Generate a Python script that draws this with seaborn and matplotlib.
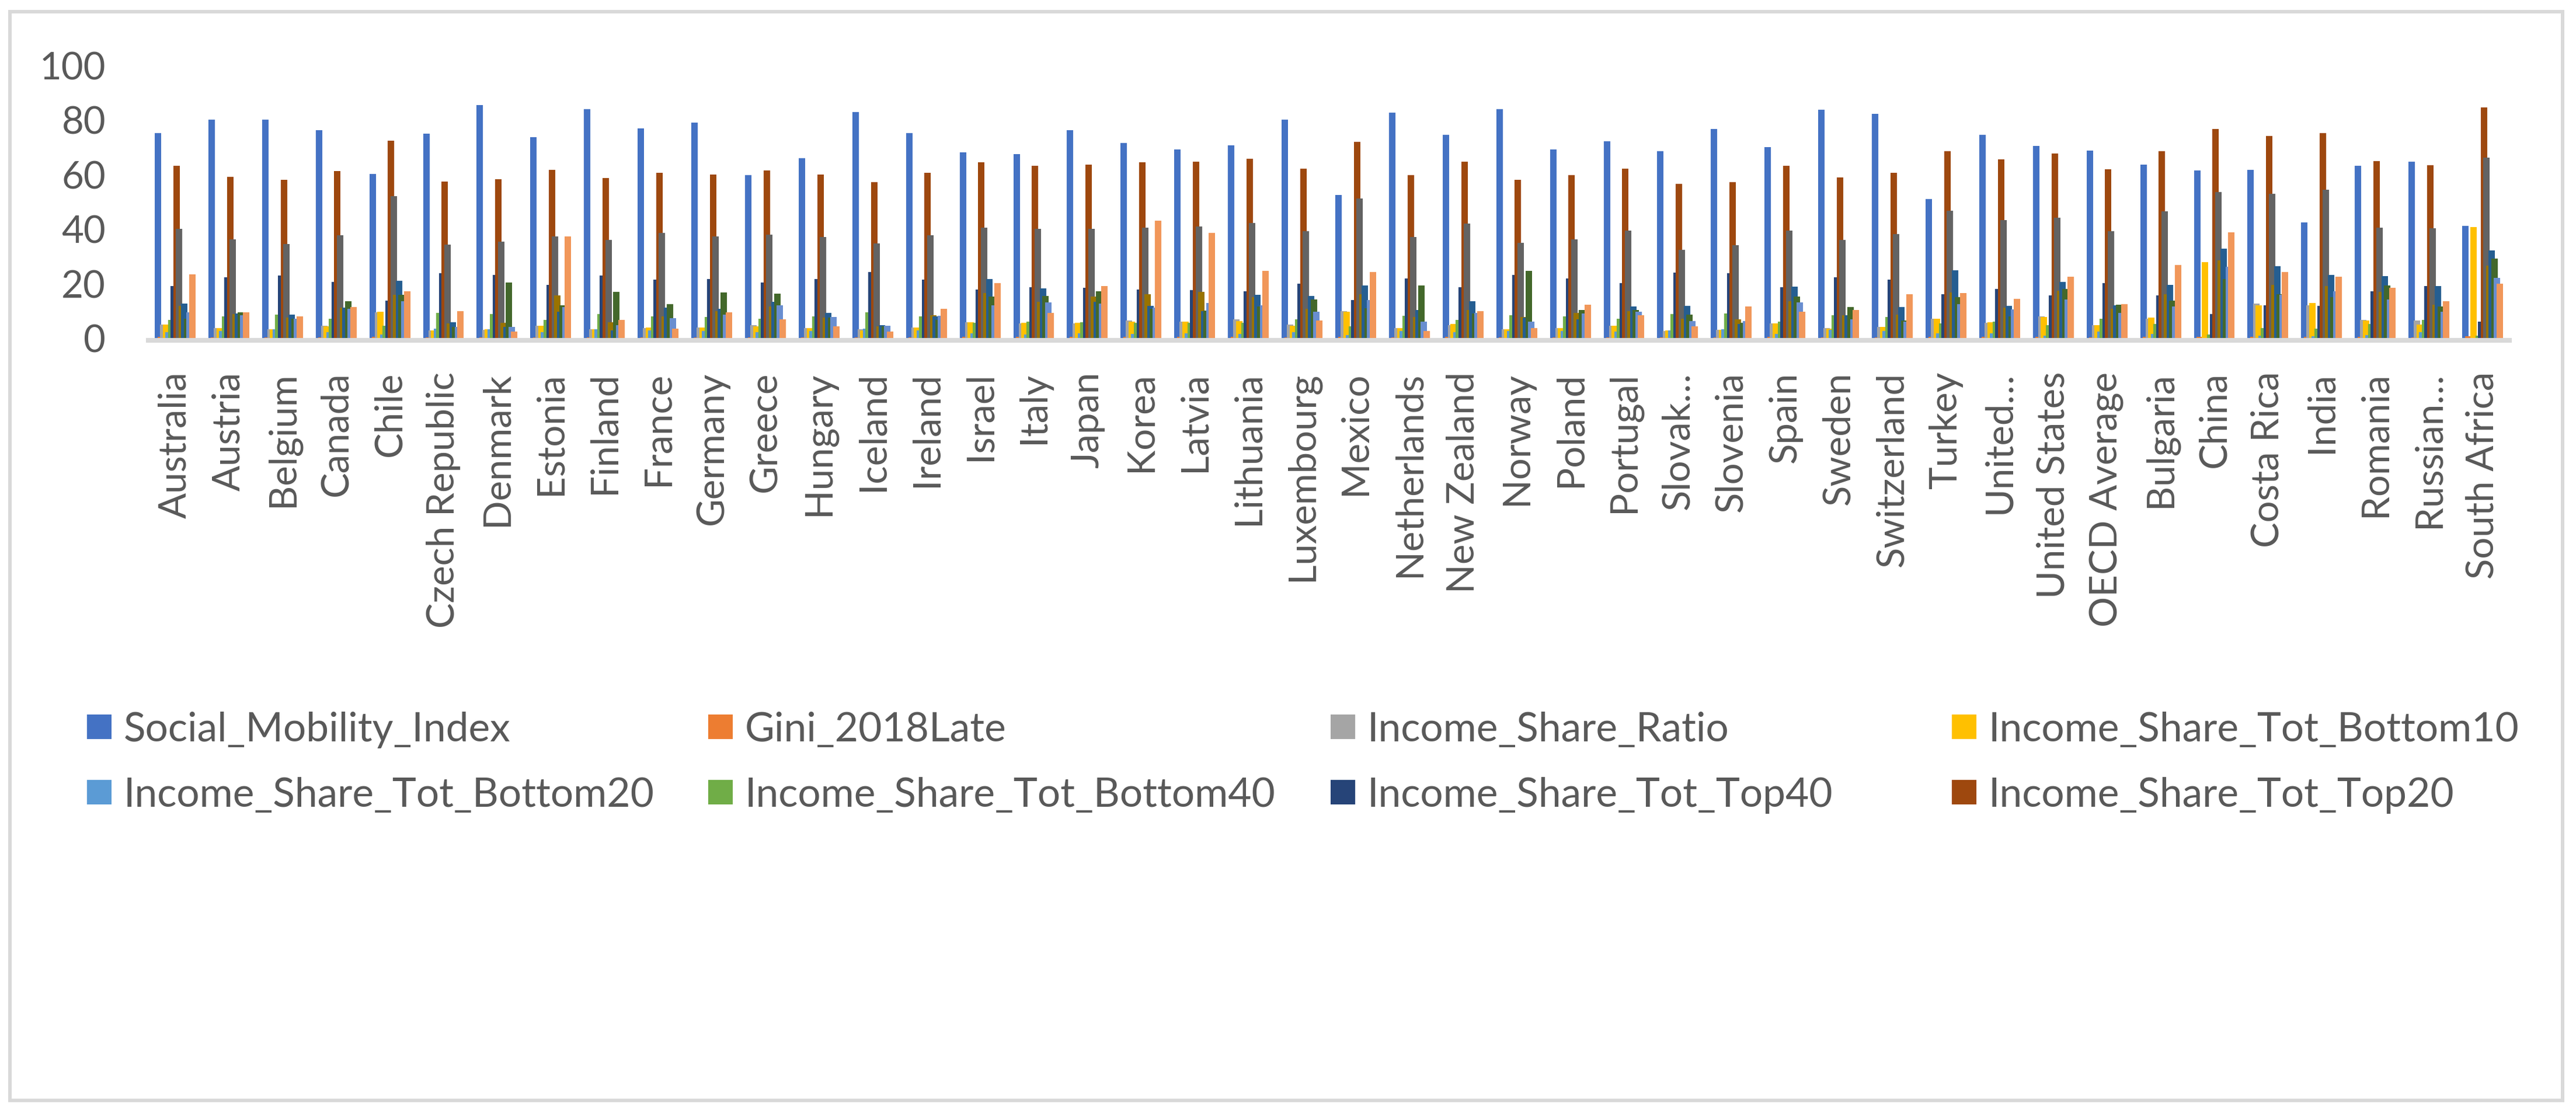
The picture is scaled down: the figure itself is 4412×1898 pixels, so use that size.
import pandas as pd
import matplotlib.pyplot as plt
import seaborn as sns
from matplotlib.patches import Patch, Rectangle

# Data
countries = ["Australia", "Austria", "Belgium", "Canada", "Chile", "Czech Republic", "Denmark",
             "Estonia", "Finland", "France", "Germany", "Greece", "Hungary", "Iceland", "Ireland",
             "Israel", "Italy", "Japan", "Korea", "Latvia", "Lithuania", "Luxembourg", "Mexico",
             "Netherlands", "New Zealand", "Norway", "Poland", "Portugal", "Slovak…", "Slovenia",
             "Spain", "Sweden", "Switzerland", "Turkey", "United…", "United States", "OECD Average",
             "Bulgaria", "China", "Costa Rica", "India", "Romania", "Russian…", "South Africa"]

social_mobility = [75.0, 80.1, 80.1, 76.1, 60.2, 74.8, 85.3, 73.5, 83.8, 76.7, 78.9, 59.6, 65.8, 82.7, 75.0,
                   68.1, 67.3, 76.1, 71.4, 69.0, 70.5, 79.9, 52.5, 82.5, 74.4, 83.8, 69.0, 72.0, 68.4, 76.5,
                   69.9, 83.6, 82.1, 51.0, 74.4, 70.3, 68.6, 63.6, 61.3, 61.5, 42.4, 63.0, 64.7, 41.1]
gini = [0.33, 0.28, 0.26, 0.30, 0.46, 0.25, 0.26, 0.31, 0.27, 0.30, 0.29, 0.31, 0.29, 0.25, 0.29,
        0.35, 0.33, 0.33, 0.35, 0.35, 0.37, 0.32, 0.42, 0.29, 0.35, 0.26, 0.28, 0.32, 0.24, 0.24,
        0.33, 0.28, 0.30, 0.40, 0.37, 0.39, 0.32, 0.40, 0.47, 0.48, 0.50, 0.35, 0.32, 0.62]
share_ratio = [4.9, 3.6, 3.2, 4.5, 9.4, 2.8, 3.0, 4.5, 3.2, 3.6, 3.9, 4.7, 3.6, 3.2, 3.9,
               5.8, 5.4, 5.4, 6.4, 6.0, 6.9, 4.9, 9.9, 3.6, 4.7, 3.2, 3.6, 4.5, 2.6, 3.0,
               5.4, 3.6, 4.1, 7.1, 5.6, 7.9, 4.7, 7.1, 0.0, 12.6, 12.0, 6.6, 6.4, 0.0]
bottom10 = [4.9, 3.6, 3.2, 4.3, 9.6, 2.8, 3.2, 4.5, 3.2, 3.9, 3.9, 4.3, 3.6, 2.8, 3.9,
            5.8, 5.6, 5.6, 6.0, 6.0, 6.2, 4.5, 9.6, 3.6, 5.1, 3.2, 3.6, 4.5, 2.8, 3.0,
            5.4, 3.4, 4.1, 7.1, 5.8, 7.7, 4.7, 7.5, 27.9, 12.0, 12.9, 6.4, 4.9, 40.7]
bottom20 = [2.1, 2.6, 3.2, 2.1, 1.3, 3.4, 3.2, 2.1, 3.2, 2.8, 2.6, 2.1, 2.6, 3.4, 2.8,
            1.7, 1.3, 1.7, 1.5, 1.7, 1.5, 2.1, 1.1, 2.6, 2.1, 2.6, 2.6, 2.4, 2.8, 3.2,
            1.5, 3.0, 2.6, 1.7, 1.7, 0.9, 2.4, 1.5, 0.0, 0.9, 0.6, 1.1, 2.1, 0.0]
bottom40 = [6.6, 7.9, 8.6, 7.1, 4.5, 9.2, 8.8, 6.6, 8.8, 7.9, 7.7, 7.1, 7.9, 9.4, 7.9,
            5.6, 6.0, 5.8, 5.6, 5.6, 5.6, 6.9, 4.3, 8.1, 6.6, 8.4, 7.9, 7.1, 8.8, 9.0,
            6.0, 8.4, 7.7, 5.4, 6.0, 4.7, 7.1, 5.1, 1.3, 3.6, 3.4, 5.1, 6.6, 0.9]
top40 = [19.1, 22.3, 22.9, 20.6, 13.7, 23.8, 23.1, 19.5, 22.9, 21.4, 21.6, 20.4, 21.6, 24.2, 21.4,
         17.8, 18.6, 18.4, 17.8, 17.6, 17.1, 19.9, 13.9, 21.9, 18.6, 23.1, 21.9, 20.1, 24.0, 23.8,
         18.6, 22.3, 21.4, 16.1, 18.0, 15.6, 20.1, 15.6, 8.8, 12.0, 11.8, 17.1, 19.1, 6.0]
top20 = [63.2, 59.1, 57.9, 61.1, 72.2, 57.4, 58.1, 61.7, 58.7, 60.6, 60.0, 61.3, 60.0, 57.2, 60.6,
         64.3, 63.2, 63.6, 64.3, 64.7, 65.6, 62.1, 71.8, 59.6, 64.5, 57.9, 59.6, 62.1, 56.4, 57.2,
         63.2, 58.9, 60.6, 68.4, 65.4, 67.5, 61.9, 68.4, 76.5, 74.1, 75.0, 64.9, 63.4, 84.4]
series9 = [40.1, 36.2, 34.5, 37.7, 51.9, 34.3, 35.4, 37.3, 36.0, 38.6, 37.3, 37.9, 37.1, 34.7, 37.7,
           40.5, 39.9, 40.1, 40.5, 40.9, 42.2, 39.2, 51.2, 36.9, 42.0, 34.9, 36.2, 39.4, 32.4, 34.1,
           39.4, 36.0, 38.1, 46.7, 43.3, 44.1, 39.2, 46.5, 53.4, 52.9, 54.4, 40.5, 40.3, 66.0]
series10 = [11.8, 8.8, 7.5, 11.1, 15.9, 5.4, 5.6, 15.6, 5.8, 7.9, 9.9, 11.6, 7.5, 4.3, 8.4,
            16.5, 13.3, 15.2, 16.1, 16.9, 15.0, 10.7, 16.1, 7.7, 10.3, 7.7, 9.2, 9.9, 7.1, 6.9,
            13.5, 8.4, 8.6, 16.7, 11.1, 17.4, 10.7, 16.1, 28.5, 19.5, 19.1, 16.9, 12.2, 26.6]
series11 = [12.6, 9.0, 8.6, 11.1, 21.0, 5.8, 4.1, 9.6, 2.8, 11.1, 10.7, 13.3, 9.2, 4.7, 7.9,
            21.6, 18.2, 13.3, 11.8, 9.9, 15.9, 15.4, 19.3, 10.3, 13.5, 7.5, 6.9, 11.6, 11.8, 5.1,
            18.9, 8.4, 11.4, 24.9, 11.8, 20.6, 12.0, 19.5, 32.8, 26.4, 23.1, 22.7, 19.1, 32.1]
series12 = [7.1, 9.4, 7.1, 13.5, 15.9, 4.1, 20.4, 12.0, 16.9, 12.4, 16.7, 16.3, 7.5, 4.3, 6.6,
            15.2, 15.4, 17.1, 10.7, 10.1, 11.6, 14.1, 10.9, 19.3, 9.0, 24.6, 10.3, 10.3, 8.6, 5.6,
            15.2, 11.4, 6.4, 15.0, 7.9, 18.0, 12.2, 13.7, 21.6, 16.1, 15.0, 19.3, 11.6, 29.1]
series13 = [9.4, 8.4, 7.1, 10.7, 13.5, 4.1, 4.1, 11.4, 4.7, 7.3, 8.6, 12.0, 7.7, 4.5, 8.1,
            12.0, 13.1, 12.6, 11.1, 12.9, 12.0, 9.6, 13.9, 6.0, 9.2, 6.0, 9.0, 9.6, 6.2, 6.2,
            13.1, 6.9, 6.0, 12.4, 10.5, 14.1, 9.2, 11.6, 26.1, 15.9, 17.1, 14.1, 9.6, 22.1]
series14 = [23.4, 9.4, 7.9, 11.4, 17.1, 9.9, 2.4, 37.3, 6.6, 3.4, 9.4, 6.9, 4.3, 2.4, 10.7,
            20.1, 9.2, 19.1, 43.1, 38.6, 24.6, 6.4, 24.2, 2.6, 9.9, 3.6, 12.2, 8.4, 4.3, 11.6,
            9.6, 10.3, 16.1, 16.5, 14.4, 22.5, 12.4, 26.8, 38.8, 24.2, 22.5, 18.4, 13.5, 19.9]

series_names = ["Social_Mobility_Index", "Gini_2018Late", "Income_Share_Ratio",
                "Income_Share_Tot_Bottom10", "Income_Share_Tot_Bottom20", "Income_Share_Tot_Bottom40",
                "Income_Share_Tot_Top40", "Income_Share_Tot_Top20",
                "Series9", "Series10", "Series11", "Series12", "Series13", "Series14"]
series_values = [social_mobility, gini, share_ratio, bottom10, bottom20, bottom40, top40, top20,
                 series9, series10, series11, series12, series13, series14]

# Excel office palette
colors = ["#4472C4", "#ED7D31", "#A5A5A5", "#FFC000", "#5B9BD5", "#70AD47", "#264478", "#9E480E",
          "#636363", "#997300", "#255E91", "#43682B", "#698ED0", "#F1975A"]

wide = pd.DataFrame(dict(zip(series_names, series_values)), index=countries)
long = wide.reset_index(names="Country").melt(id_vars="Country", var_name="Series", value_name="Value")

sns.set_style("white")
plt.rcParams['font.family'] = ['Lato', 'DejaVu Sans']
text_color = "#595959"
W, H = 4412, 1899

fig = plt.figure(figsize=(W / 100, H / 100), dpi=100)
ax = fig.add_axes([254 / W, 1 - 580 / H, (4298 - 254) / W, 467.5 / H])

group_w = 0.69
sns.barplot(data=long, x="Country", y="Value", hue="Series", order=countries, hue_order=series_names,
            palette=colors, width=group_w, saturation=1, errorbar=None, legend=False, ax=ax)

# Excel-style overlapping bars: widen every bar, later series on top
step = group_w / len(series_names)
bar_w = 11 / 92
for p in ax.patches:
    p.set_x(p.get_x() - (bar_w - step) / 2)
    p.set_width(bar_w)
    p.set_linewidth(0)

ax.set_xlim(-0.5, len(countries) - 0.5)
ax.set_ylim(0, 100)
ax.set_yticks(range(0, 101, 20))
ax.set_xlabel("")
ax.set_ylabel("")
ax.grid(False)

for s in ["top", "right", "left"]:
    ax.spines[s].set_visible(False)
ax.spines["bottom"].set_color("#D9D9D9")
ax.spines["bottom"].set_linewidth(5.8)
ax.spines["bottom"].set_position(("outward", 2.9))

ax.tick_params(axis="x", length=0, pad=38, labelsize=47, labelcolor=text_color, labelrotation=90)
ax.tick_params(axis="y", length=0, pad=52.5, labelsize=47, labelcolor=text_color)

# legend: first eight series, two rows of four like the original
col_x = [149, 1213, 2279, 3343]
row_y = [1251, 1363]
for k in range(8):
    handle = Patch(facecolor=colors[k], edgecolor="none")
    fig.legend(handles=[handle], labels=[series_names[k]], loc="center left",
               bbox_to_anchor=(col_x[k % 4] / W, 1 - row_y[k // 4] / H),
               frameon=False, fontsize=50, handlelength=0.6, handleheight=0.55,
               handletextpad=0.3, borderpad=0, borderaxespad=0, labelcolor=text_color)

# chart area border
fig.patches.append(Rectangle((17 / W, 1 - 1886 / H), (4389 - 17) / W, (1886 - 21) / H,
                             transform=fig.transFigure, fill=False, edgecolor="#D9D9D9", linewidth=4.3))

fig.savefig("out.png", dpi=100)
